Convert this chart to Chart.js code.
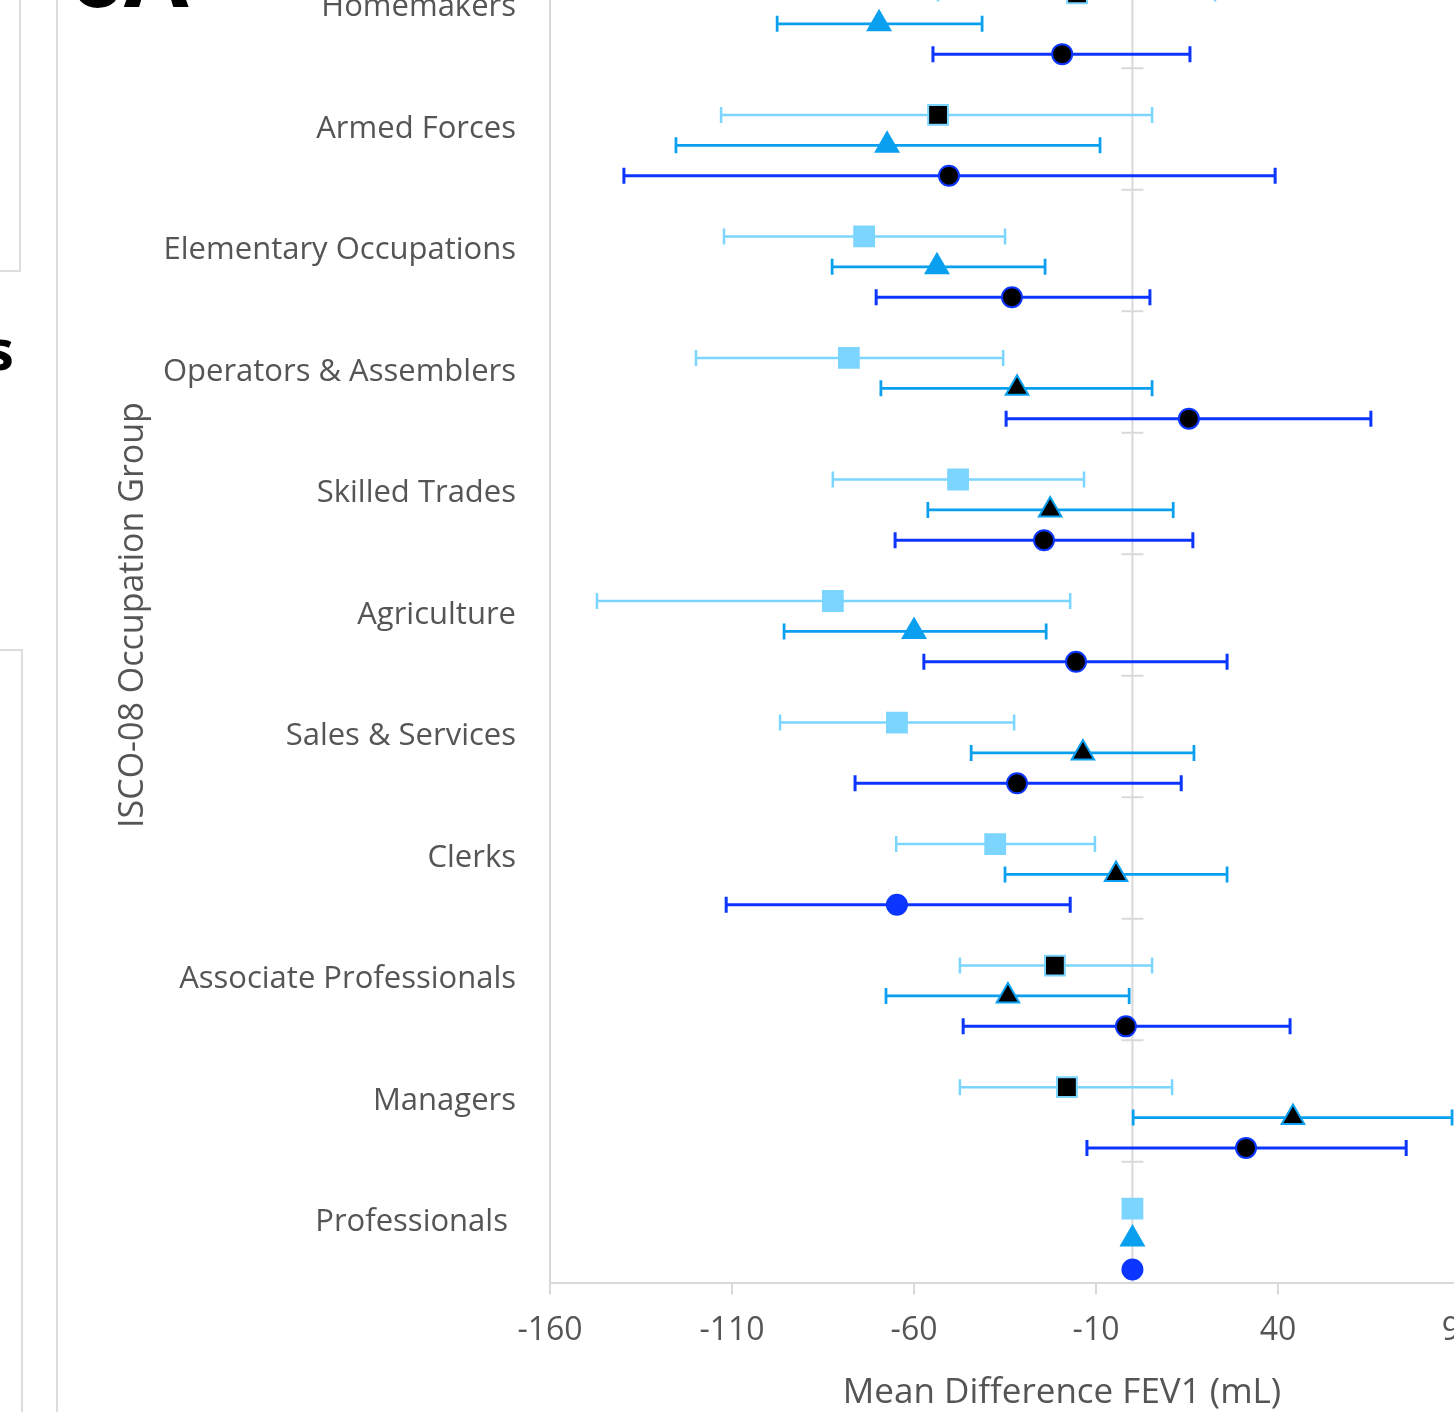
<!DOCTYPE html>
<html>
<head>
<meta charset="utf-8">
<script src="https://cdn.jsdelivr.net/npm/chart.js@4.4.1/dist/chart.umd.min.js"></script>
<style>
  html, body { margin: 0; padding: 0; background: #fff; overflow: hidden; }
  body { width: 1454px; height: 1412px; position: relative; font-family: 'Open Sans', sans-serif; }
  #chart { position: absolute; left: 0; top: -106px; }
  .box1 { position: absolute; left: -2px; top: -2px; width: 21px; height: 272px; border-right: 2px solid #dcdcdc; border-bottom: 2px solid #dcdcdc; }
  .box2 { position: absolute; left: -2px; top: 649px; width: 23px; height: 800px; border-right: 2px solid #dcdcdc; border-top: 2px solid #dcdcdc; }
  .vline { position: absolute; left: 56px; top: 0; width: 2px; height: 1412px; background: #dcdcdc; }
  .big { position: absolute; font-family: 'Open Sans', sans-serif; font-weight: 700; color: #000; line-height: 1; }
</style>
</head>
<body>
<div class="box1"></div>
<div class="box2"></div>
<div class="vline"></div>
<div class="big" style="left:70px; top:-76px; font-size:94px;">6A</div>
<div class="big" style="left:-14px; top:320px; font-size:56px;">s</div>
<canvas id="chart" width="1700" height="1530"></canvas>
<script>
// top to bottom, as in the figure
const categories = ['Homemakers', 'Armed Forces', 'Elementary Occupations', 'Operators & Assemblers',
  'Skilled Trades', 'Agriculture', 'Sales & Services', 'Clerks', 'Associate Professionals',
  'Managers', 'Professionals '];

const squareMean = [-15.2, -53.4, -73.7, -77.9, -47.9, -82.3, -64.7, -37.7, -21.3, -18.0, 0];
const squareLow  = [-53.4, -113.0, -112.2, -119.9, -82.3, -147.1, -96.8, -64.9, -47.4, -47.4, null];
const squareHigh = [22.7, 5.4, -35.0, -35.5, -13.3, -17.1, -32.5, -10.3, 5.4, 10.9, null];
const squareDark = [true, true, false, false, false, false, false, false, true, true, false];

const triMean = [-69.6, -67.4, -53.7, -31.7, -22.6, -60.0, -13.6, -4.5, -34.2, 44.1, 0];
const triLow  = [-97.6, -125.4, -82.5, -69.1, -56.2, -95.7, -44.3, -35.0, -67.7, 0.2, null];
const triHigh = [-41.3, -8.9, -24.0, 5.4, 11.2, -23.7, 16.9, 26.0, -0.9, 87.8, null];
const triDark = [false, false, false, true, true, false, true, true, true, true, false];

const circMean = [-19.3, -50.4, -33.1, 15.5, -24.3, -15.5, -31.7, -64.7, -1.8, 31.2, 0];
const circLow  = [-54.8, -139.7, -70.4, -34.7, -65.2, -57.3, -76.2, -111.6, -46.5, -12.5, null];
const circHigh = [15.8, 39.2, 4.8, 65.5, 16.6, 26.0, 13.4, -17.1, 43.3, 75.2, null];
const circDark = [true, true, true, true, true, true, true, false, true, true, false];

const xTicks = [-160, -110, -60, -10, 40, 90];

const n = categories.length;
const rowOf = i => n - 1 - i;   // bottom row = 0

const LIGHT = '#7bd5ff', MID = '#0aa0ef', DARK = '#0c36ff';
const GRAY = '#555555', LINE = '#d9d9d9';

function makeSet(label, mean, low, high, dark, offset, color, style, radius, lw) {
  return {
    label: label,
    data: mean.map((v, i) => ({ x: v, y: rowOf(i) + offset, lo: low[i], hi: high[i] })),
    pointStyle: style,
    pointRadius: radius,
    pointHoverRadius: radius,
    pointBorderWidth: 2,
    borderColor: color,
    pointBorderColor: color,
    pointBackgroundColor: dark.map(d => d ? '#000' : color),
    showLine: false,
    errLineWidth: lw,
    clip: false
  };
}

const errorBars = {
  id: 'errorBars',
  beforeDatasetsDraw(chart) {
    const { ctx, scales: { x, y } } = chart;
    // zero line with the row ticks
    const x0 = x.getPixelForValue(0);
    ctx.save();
    ctx.strokeStyle = LINE;
    ctx.lineWidth = 2;
    ctx.beginPath();
    ctx.moveTo(x0, y.getPixelForValue(y.max));
    ctx.lineTo(x0, y.getPixelForValue(0));
    for (let k = 1; k <= n; k++) {
      const py = y.getPixelForValue(k);
      ctx.moveTo(x0 - 11, py);
      ctx.lineTo(x0 + 11, py);
    }
    ctx.stroke();
    chart.data.datasets.forEach(ds => {
      ctx.strokeStyle = ds.borderColor;
      ctx.lineWidth = ds.errLineWidth;
      ds.data.forEach(p => {
        if (p.lo == null) return;
        const py = y.getPixelForValue(p.y);
        const a = x.getPixelForValue(p.lo), b = x.getPixelForValue(p.hi);
        ctx.beginPath();
        ctx.moveTo(a, py); ctx.lineTo(b, py);
        ctx.moveTo(a, py - 8); ctx.lineTo(a, py + 8);
        ctx.moveTo(b, py - 8); ctx.lineTo(b, py + 8);
        ctx.stroke();
      });
    });
    ctx.restore();
  }
};

new Chart(document.getElementById('chart'), {
  type: 'scatter',
  data: {
    datasets: [
      makeSet('Square', squareMean, squareLow, squareHigh, squareDark, 0.615, LIGHT, 'rect', 14, 2.5),
      makeSet('Triangle', triMean, triLow, triHigh, triDark, 0.365, MID, 'triangle', 13, 2.75),
      makeSet('Circle', circMean, circLow, circHigh, circDark, 0.115, DARK, 'circle', 10, 3)
    ]
  },
  options: {
    responsive: false,
    animation: false,
    layout: { padding: { top: 20, right: 126, left: 0, bottom: 0 } },
    plugins: { legend: { display: false }, tooltip: { enabled: false } },
    scales: {
      x: {
        type: 'linear',
        min: -160,
        max: 121.3,
        afterBuildTicks: s => { s.ticks = xTicks.map(v => ({ value: v })); },
        afterFit: s => { s.height = 140.6; },
        grid: { drawOnChartArea: false, drawTicks: true, tickLength: 11, color: LINE, lineWidth: 2 },
        border: { color: LINE, width: 2 },
        ticks: { color: GRAY, font: { family: 'Open Sans', size: 32 }, padding: 17, maxRotation: 0, autoSkip: false },
        title: {
          display: true, text: 'Mean Difference FEV1 (mL)', color: GRAY,
          font: { family: 'Open Sans', size: 35 }, padding: { top: 0, bottom: 10 }
        }
      },
      y: {
        type: 'linear',
        min: 0,
        max: n,
        afterBuildTicks: s => { s.ticks = categories.map((c, i) => ({ value: rowOf(i) + 0.5 })); },
        afterFit: s => { s.width = 550; },
        grid: { display: false, drawTicks: false },
        border: { color: LINE, width: 2 },
        ticks: {
          color: GRAY, font: { family: 'Open Sans', size: 31 }, padding: 34, autoSkip: false,
          callback: v => categories[n - 1 - Math.round(v - 0.5)]
        },
        title: {
          display: true, text: 'ISCO-08 Occupation Group', color: GRAY,
          font: { family: 'Open Sans', size: 34 }, padding: { top: 113, bottom: 0 }
        }
      }
    }
  },
  plugins: [errorBars]
});
</script>
</body>
</html>
